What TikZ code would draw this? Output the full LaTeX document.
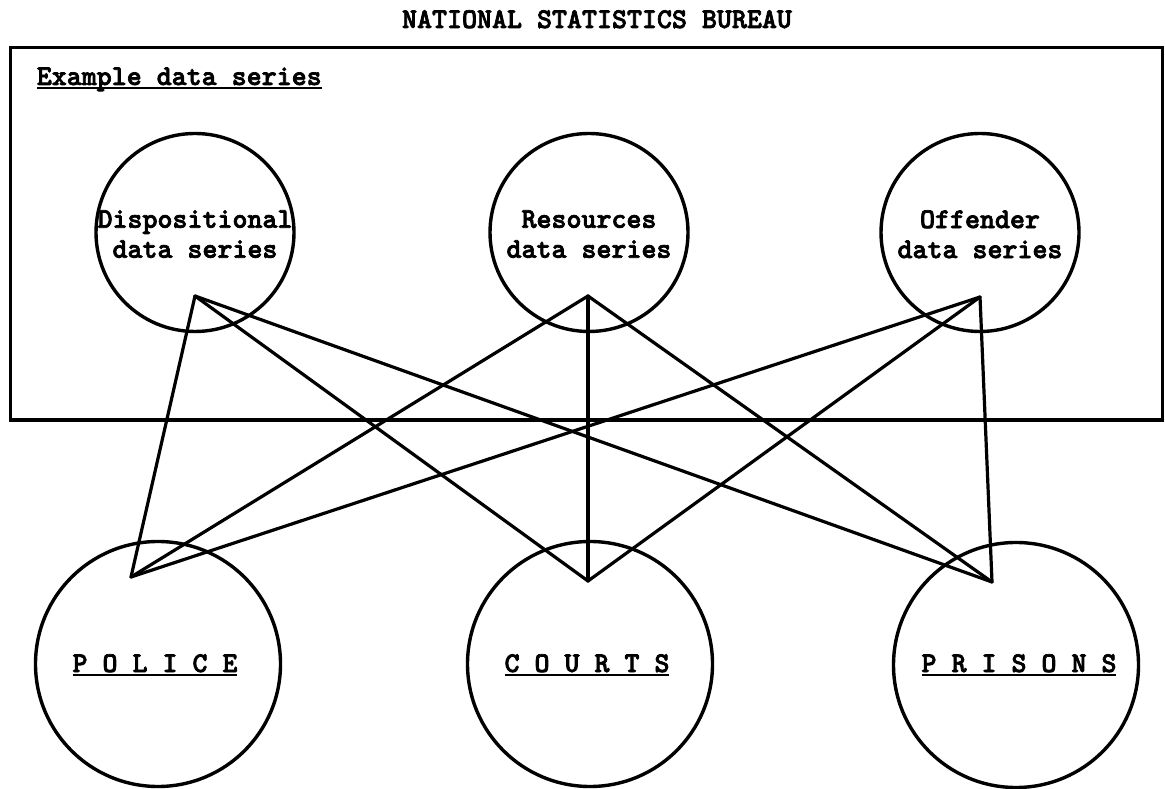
\documentclass[tikz,border=0pt]{standalone}
\usepackage{fontspec}
% heavy typewriter face for all labels
\newfontfamily\typer{lmmonolt10-bold.otf}[FakeBold=2.5]
% underline a piece of text with a thin rule just below the baseline
\newcommand{\ultext}[1]{\setbox0=\hbox{#1}\rlap{\rule[-1pt]{\wd0}{0.55pt}}\box0}
\begin{document}
\begin{tikzpicture}[x=0.25pt,y=-0.25pt,
  every node/.style={font=\typer\fontsize{7.14pt}{7.5pt}\selectfont, inner sep=0pt},
  ring/.style={draw, circle, line width=0.85pt},
  topring/.style={ring, minimum size=49.5pt},
  botring/.style={ring, minimum size=61.25pt},
  link/.style={line width=0.8pt, line cap=round},
  caption/.style={anchor=north, align=center}]
\useasboundingbox (0,0) rectangle (1165,789);
\fill[white] (0,0) rectangle (1165,789);

% heading and the frame holding the data series
\node[anchor=base] (title) at (597,28) {NATIONAL STATISTICS BUREAU};
\node[draw, line width=0.9pt, minimum width=288pt, minimum height=93.125pt] (frame) at (586.5,233.75) {};
\node[anchor=base west] (series) at (36,85) {\ultext{Example data series}};

% data series
\node[topring] (disp) at (195,232.5) {};
\node[topring] (res)  at (589,232.5) {};
\node[topring] (off)  at (980,232.5) {};
\node[caption] (disptxt) at (195,209.5) {Dispositional\\data series};
\node[caption] (restxt)  at (589,209.5) {Resources\\data series};
\node[caption] (offtxt)  at (980,209.5) {Offender\\data series};

% agencies
\node[botring] (police)  at (158,664) {};
\node[botring] (courts)  at (590,664) {};
\node[botring] (prisons) at (1016,665) {};
\node[anchor=base] (poltxt) at (155,672)  {\ultext{P O L I C E}};
\node[anchor=base] (courtxt) at (587,672) {\ultext{C O U R T S}};
\node[anchor=base] (pristxt) at (1019,672) {\ultext{P R I S O N S}};

% meeting points of the links inside each circle
\coordinate (dv) at (195,296);
\coordinate (rv) at (588,296);
\coordinate (ov) at (980,297);
\coordinate (pv) at (131,577);
\coordinate (cv) at (588,581);
\coordinate (sv) at (992,582);

% every data series feeds every agency
\foreach \a in {dv,rv,ov}
  \foreach \b in {pv,cv,sv}
    \draw[link] (\a) -- (\b);
\end{tikzpicture}
\end{document}
